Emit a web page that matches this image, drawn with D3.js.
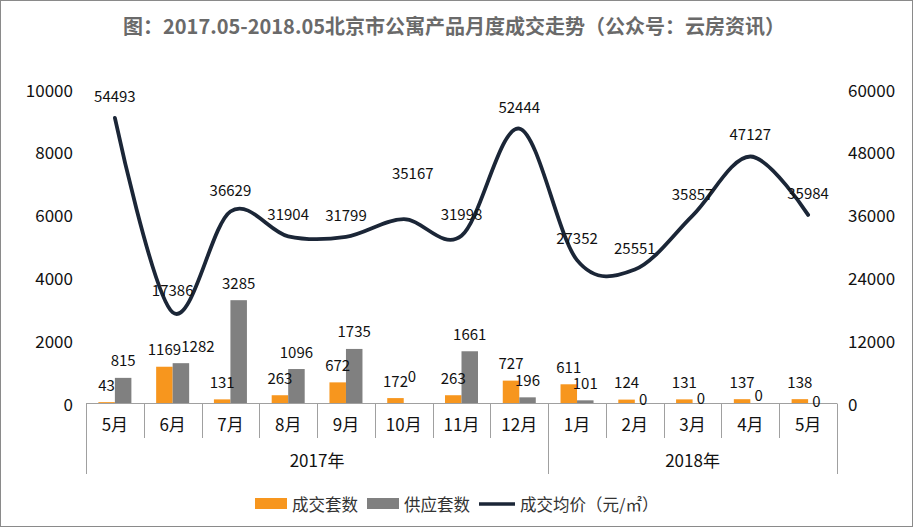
<!DOCTYPE html>
<html><head><meta charset="utf-8">
<script src="https://cdn.jsdelivr.net/npm/d3@7/dist/d3.min.js"></script>
<style>
html,body{margin:0;padding:0;background:#fff;}
svg{display:block;font-family:"Noto Sans CJK SC","Noto Sans",sans-serif;}
</style></head>
<body><svg id="c" width="914" height="528"></svg>
<script>
const title = "图：2017.05-2018.05北京市公寓产品月度成交走势（公众号：云房资讯）";
const months = ["5月","6月","7月","8月","9月","10月","11月","12月","1月","2月","3月","4月","5月"];
const years = [{label:"2017年", from:0, to:8},{label:"2018年", from:8, to:13}];
const dealUnits = [43,1169,131,263,672,172,263,727,611,124,131,137,138];
const supplyUnits = [815,1282,3285,1096,1735,0,1661,196,101,0,0,0,0];
const avgPrice = [54493,17386,36629,31904,31799,35167,31998,52444,27352,25551,35857,47127,35984];
const leftTicks = [0,2000,4000,6000,8000,10000];
const rightTicks = [0,12000,24000,36000,48000,60000];
const seriesNames = ["成交套数","供应套数","成交均价（元/㎡）"];

// label nudges (style only)
const supplyNudge = {1:{dx:17,dy:0},5:{dx:0,dy:-10},9:{dx:0,dy:13},10:{dx:0,dy:12},11:{dx:0,dy:9},12:{dx:0,dy:15}};
const priceNudge = {5:{dx:9,dy:-24}};

const colors = {deal:"#F7961E", supply:"#808080", line:"#1B2637"};
const svg = d3.select("#c");

svg.append("rect").attr("x",0.5).attr("y",0.5).attr("width",912).attr("height",526)
  .attr("fill","#fff").attr("stroke","#8a8a8a").attr("stroke-width",1);

svg.append("text").attr("x",454).attr("y",25).attr("text-anchor","middle")
  .attr("dominant-baseline","central").attr("font-size",20).attr("font-weight","bold")
  .attr("fill","#6a6a6a").text(title);

const x = d3.scaleBand().domain(d3.range(months.length)).range([86,837]).paddingInner(0).paddingOuter(0);
const yL = d3.scaleLinear().domain([0,10000]).range([403.5,89]);
const yR = d3.scaleLinear().domain([0,60000]).range([403.5,89]);
const bw = x.bandwidth()/3.5;

// left ticks
svg.append("g").selectAll("text").data(leftTicks).join("text")
  .attr("x",73).attr("y",d=>yL(d)).attr("text-anchor","end").attr("dominant-baseline","central")
  .attr("font-size",17).attr("fill","#111").text(d=>d);
svg.append("g").selectAll("text").data(rightTicks).join("text")
  .attr("x",848).attr("y",d=>yR(d)).attr("text-anchor","start").attr("dominant-baseline","central")
  .attr("font-size",17).attr("fill","#111").text(d=>d);

// bars
const cx = i => x(i) + x.bandwidth()/2;
svg.append("g").selectAll("rect").data(dealUnits).join("rect")
  .attr("x",(d,i)=>cx(i)-bw).attr("width",bw)
  .attr("y",d=>yL(d)).attr("height",d=>yL(0)-yL(d)).attr("fill",colors.deal);
svg.append("g").selectAll("rect").data(supplyUnits).join("rect")
  .attr("x",(d,i)=>cx(i)).attr("width",bw)
  .attr("y",d=>yL(d)).attr("height",d=>yL(0)-yL(d)).attr("fill",colors.supply);

// axis
const ax = svg.append("g").attr("stroke","#a0a0a0").attr("stroke-width",1);
ax.append("line").attr("x1",86).attr("x2",837).attr("y1",403.5).attr("y2",403.5);
const bounds = d3.range(months.length+1).map(i => i<months.length ? x(i) : x(months.length-1)+x.bandwidth());
const yearB = new Set(years.flatMap(y=>[y.from,y.to]));
bounds.forEach((b,i)=>{
  ax.append("line").attr("x1",Math.round(b)+0.5).attr("x2",Math.round(b)+0.5)
    .attr("y1",403.5).attr("y2",yearB.has(i)?474:438);
});
svg.append("g").selectAll("text").data(months).join("text")
  .attr("x",(d,i)=>cx(i)).attr("y",423.5).attr("text-anchor","middle").attr("dominant-baseline","central")
  .attr("font-size",17).attr("fill","#111").text(d=>d);
svg.append("g").selectAll("text").data(years).join("text")
  .attr("x",d=>(bounds[d.from]+bounds[d.to])/2).attr("y",459).attr("text-anchor","middle")
  .attr("dominant-baseline","central").attr("font-size",17).attr("fill","#111").text(d=>d.label);

// line
const line = d3.line().x((d,i)=>cx(i)).y(d=>yR(d)).curve(d3.curveCardinal.tension(0));
svg.append("path").datum(avgPrice).attr("d",line).attr("fill","none")
  .attr("stroke",colors.line).attr("stroke-width",3.8).attr("stroke-linecap","round");

// labels
const lab = svg.append("g").attr("font-size",15).attr("fill","#111").attr("text-anchor","middle").attr("dominant-baseline","central");
dealUnits.forEach((d,i)=>{
  lab.append("text").attr("x",cx(i)-bw/2).attr("y",yL(d)-18).text(d);
});
supplyUnits.forEach((d,i)=>{
  const n = supplyNudge[i]||{dx:0,dy:0};
  lab.append("text").attr("x",cx(i)+bw/2+n.dx).attr("y",yL(d)-18+n.dy).text(d);
});
avgPrice.forEach((d,i)=>{
  const n = priceNudge[i]||{dx:0,dy:0};
  lab.append("text").attr("x",cx(i)+n.dx).attr("y",yR(d)-22.5+n.dy).text(d);
});

// legend
const lg = svg.append("g").attr("font-size",16.5).attr("fill","#333");
let lx = 255; const ly = 504;
seriesNames.forEach((name,k)=>{
  if(k<2){
    lg.append("rect").attr("x",lx).attr("y",ly-6).attr("width",32).attr("height",11)
      .attr("fill",k===0?colors.deal:colors.supply);
  } else {
    lg.append("line").attr("x1",lx).attr("x2",lx+36).attr("y1",ly).attr("y2",ly)
      .attr("stroke",colors.line).attr("stroke-width",3.6);
  }
  const t = lg.append("text").attr("x",lx+(k<2?37:41)).attr("y",ly).attr("dominant-baseline","central").text(name);
  lx = lx + (k<2?37:41) + t.node().getComputedTextLength() + 9;
});
</script></body></html>
